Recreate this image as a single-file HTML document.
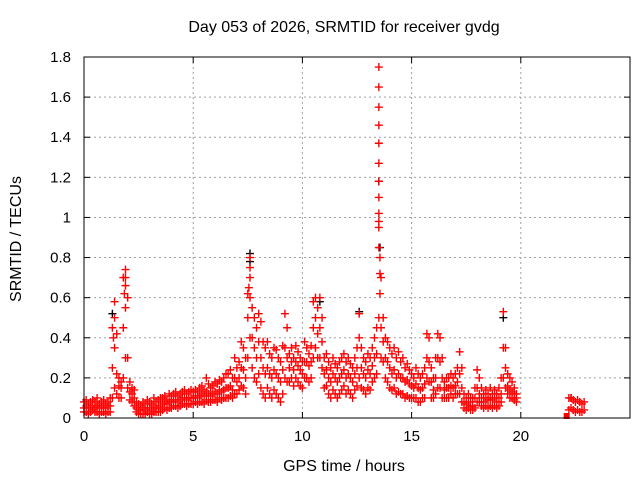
<!DOCTYPE html>
<html><head><meta charset="utf-8"><style>
body{margin:0;background:#fff;}
svg{display:block;font-family:"Liberation Sans",sans-serif;}
</style></head><body>
<svg id="chart" width="640" height="480">
<rect width="640" height="480" fill="#fff"/>
<g id="grid"></g>
<g id="marks"></g>
<rect x="84" y="57" width="546" height="361" fill="none" stroke="#000" stroke-width="1"/>
<g id="ticks"></g>
<text x="344" y="32" text-anchor="middle" font-size="16">Day 053 of 2026, SRMTID for receiver gvdg</text>
<text x="344" y="471" text-anchor="middle" font-size="16">GPS time / hours</text>
<text transform="translate(21,239) rotate(-90)" text-anchor="middle" font-size="16">SRMTID / TECUs</text>
</svg>
<script>
const xTicks=[0,5,10,15,20];
const yTicks=[0,0.2,0.4,0.6,0.8,1,1.2,1.4,1.6,1.8];
const yTickLabels=["0","0.2","0.4","0.6","0.8","1","1.2","1.4","1.6","1.8"];
const sampleStep=0.1;
const hiVals=[.08,.09,.07,.08,.09,.08,.1,.07,.08,.09,.07,.08,.1,
.45,.58,.42,.2,.18,.7,.74,.6,.18,.15,.14,.08,
.07,.06,.08,.07,.09,.08,.07,.1,.08,.09,.1,
.1,.11,.09,.12,.11,.12,.13,.11,.12,.13,.14,.12,.13,.14,.13,
.14,.13,.15,.16,.14,.2,.17,.15,.16,.18,.17,.19,.18,.2,.22,
.22,.24,.2,.3,.25,.28,.38,.35,.3,
.62,.8,.55,
.5,.45,.52,.48,.38,.35,
.38,.32,.3,.35,.34,.3,.28,.36,
.52,.45,
.32,.35,.3,.36,.33,.3,.28,.38,.35,.32,.36,
.58,.6,.55,.6,.5,
.3,.32,.28,.25,.3,.27,.25,.28,.3,.32,.28,.3,.27,.25,.3,.35,
.52,
.35,.3,.28,.32,.3,.35,.4,.45,
1.75,.7,.5,
.4,.38,.35,.32,.35,.3,.33,.28,.3,.25,.27,.24,.22,
.2,.25,.22,.2,.22,.25,
.42,.4,.25,.2,.3,.42,.4,.3,
.18,.2,.2,.22,.2,.22,.25,
.33,.25,.12,.1,.12,.1,.1,.15,
.24,.2,.15,.12,.14,.12,.15,.12,.14,.12,.15,.2,
.53,.35,.22,.2,.18,.15,.12];
const midVals=[.05,.06,.05,.05,.06,.05,.06,.05,.06,.05,.05,.06,.06,
.25,.35,.22,.16,.15,.45,.55,.3,.13,.12,.1,.05,
.04,.04,.05,.04,.05,.05,.04,.06,.05,.05,.06,
.07,.08,.07,.08,.08,.09,.09,.08,.09,.1,.1,.09,.1,.1,.1,
.11,.1,.11,.12,.11,.13,.12,.11,.12,.13,.12,.14,.13,.14,.15,
.15,.16,.14,.2,.18,.2,.25,.24,.2,
.5,.6,.4,
.35,.3,.38,.3,.25,.22,
.25,.22,.2,.24,.22,.2,.18,.24,
.35,.3,
.25,.28,.24,.28,.26,.24,.22,.28,.28,.26,.28,
.45,.5,.42,.45,.38,
.22,.24,.2,.18,.22,.2,.18,.2,.22,.24,.2,.22,.2,.18,.22,.25,
.4,
.25,.22,.2,.24,.22,.26,.3,.32,
1.1,.45,.38,
.3,.28,.25,.22,.24,.2,.22,.2,.2,.18,.19,.17,.16,
.15,.17,.15,.14,.15,.17,
.3,.28,.18,.14,.2,.3,.28,.2,
.14,.15,.15,.16,.15,.16,.18,
.22,.15,.08,.07,.08,.06,.06,.1,
.15,.12,.1,.08,.1,.09,.1,.09,.1,.08,.1,.12,
.35,.25,.16,.14,.13,.12,.1];
const loVals=[.03,.03,.02,.03,.04,.03,.03,.02,.03,.03,.02,.03,.03,
.1,.15,.12,.1,.1,.2,.3,.15,.09,.08,.06,.03,
.02,.02,.02,.02,.03,.02,.02,.03,.03,.03,.03,
.04,.05,.04,.05,.05,.06,.06,.05,.06,.07,.07,.06,.07,.07,.07,
.08,.07,.08,.08,.07,.09,.08,.08,.09,.09,.08,.1,.09,.1,.1,
.1,.11,.1,.12,.12,.14,.16,.15,.12,
.3,.4,.25,
.2,.18,.22,.15,.12,.1,
.15,.12,.1,.14,.12,.1,.08,.12,
.2,.18,
.18,.2,.16,.2,.18,.16,.15,.2,.2,.18,.2,
.3,.35,.3,.3,.25,
.15,.16,.12,.1,.14,.12,.1,.12,.14,.16,.12,.14,.12,.1,.14,.16,
.2,
.15,.14,.12,.15,.14,.18,.2,.22,
.5,.3,.28,
.2,.18,.15,.14,.15,.12,.13,.12,.12,.1,.11,.1,.1,
.1,.1,.08,.08,.1,.1,
.2,.18,.1,.1,.12,.15,.15,.1,
.1,.1,.1,.12,.1,.12,.12,
.12,.08,.05,.04,.05,.04,.04,.05,
.08,.08,.06,.05,.06,.05,.06,.05,.06,.05,.06,.08,
.2,.15,.12,.1,.1,.09,.08];
const extraTimes=[13.5,13.5,13.5,13.5,13.5,13.5,13.5,13.5,13.5,13.5,13.55,13.55,13.55,7.6,7.6,7.55,1.9,1.9,1.85,1.4,1.35];
const extraVals=[1.65,1.55,1.46,1.37,1.27,1.18,1.02,.98,.95,.85,.8,.72,.62,.75,.7,.65,.7,.66,.62,.5,.4];
const lateTimes=[22.2,22.3,22.4,22.5,22.6,22.7,22.8,22.9];
const lateHi=[.1,.1,.09,.08,.09,.08,.07,.08];
const lateLo=[.04,.05,.04,.03,.04,.03,.03,.04];
const blackTimes=[1.3,7.6,7.6,10.8,12.6,13.5,13.55,19.2,22.3];
const blackVals=[.52,.82,.78,.58,.53,1.18,.85,.5,.1];

const X0=84,X1=630,Y0=418,Y1=57;
const xs=t=>X0+(t/25)*(X1-X0);
const ys=v=>Y0-(v/1.8)*(Y0-Y1);
const NS="http://www.w3.org/2000/svg";
const grid=document.getElementById('grid'),ticks=document.getElementById('ticks'),marks=document.getElementById('marks');
function mk(tag,attrs,parent){const e=document.createElementNS(NS,tag);for(const k in attrs)e.setAttribute(k,attrs[k]);parent.appendChild(e);return e;}
yTicks.forEach((v,i)=>{
  const y=ys(v);
  if(i>0&&i<yTicks.length-1){const g=mk('line',{x1:X0,x2:X1,y1:y,y2:y,stroke:'#a0a0a0','stroke-dasharray':'2,3'},grid);
  
  }
  const t1=mk('line',{x1:X0,x2:X0+6,y1:y,y2:y,stroke:'#000'},ticks);
  
  
  const t2=mk('line',{x1:X1-6,x2:X1,y1:y,y2:y,stroke:'#000'},ticks);
  
  
  const tx=mk('text',{x:X0-13,y:y+5,'text-anchor':'end','font-size':'15'},ticks);
  tx.textContent=yTickLabels[i];
  
  
});
xTicks.forEach(t=>{
  const x=xs(t);
  if(t>0){const g=mk('line',{x1:x,x2:x,y1:Y1,y2:Y0,stroke:'#a0a0a0','stroke-dasharray':'2,3'},grid);
  
  }
  const t1=mk('line',{x1:x,x2:x,y1:Y0,y2:Y0-6,stroke:'#000'},ticks);
  
  
  const t2=mk('line',{x1:x,x2:x,y1:Y1,y2:Y1+6,stroke:'#000'},ticks);
  
  
  const tx=mk('text',{x:x,y:Y0+23,'text-anchor':'middle','font-size':'15'},ticks);
  tx.textContent=String(t);
  
  
});
function plus(t,v,color,name){
  const x=xs(t),y=ys(v);
  const p=mk('path',{d:`M${x-4},${y}H${x+4}M${x},${y-4}V${y+4}`,stroke:color,'stroke-width':'1.4',fill:'none'},marks);
  
  
}
blackTimes.forEach((t,i)=>plus(t,blackVals[i],'#000','black-point'));
[hiVals,midVals,loVals].forEach(arr=>arr.forEach((v,i)=>plus(i*sampleStep,v,'#f00','red-point')));
extraTimes.forEach((t,i)=>plus(t,extraVals[i],'#f00','red-point'));
lateTimes.forEach((t,i)=>{plus(t,lateHi[i],'#f00','red-point');plus(t,lateLo[i],'#f00','red-point');});
const sq=mk('rect',{x:xs(22.1)-3,y:ys(0)-5,width:6,height:6,fill:'#f00'},marks);


</script>
</body></html>
